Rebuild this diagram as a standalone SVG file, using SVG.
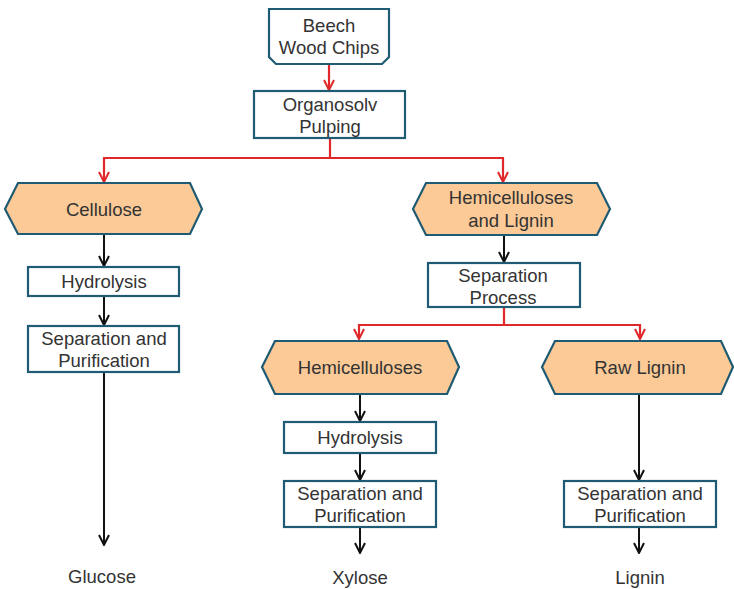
<svg xmlns="http://www.w3.org/2000/svg" width="734" height="589" viewBox="0 0 734 589">
  <defs>
    <marker id="arrowBlack" viewBox="0 0 12 12" refX="11" refY="6" markerWidth="12" markerHeight="12" markerUnits="userSpaceOnUse" orient="auto">
      <path d="M1,1 L11,6 L1,11" fill="none" stroke="#111" stroke-width="2"/>
    </marker>
    <marker id="arrowRed" viewBox="0 0 12 12" refX="11" refY="6" markerWidth="12" markerHeight="12" markerUnits="userSpaceOnUse" orient="auto">
      <path d="M1,1 L11,6 L1,11" fill="none" stroke="#e0282a" stroke-width="2"/>
    </marker>
    <style>
      .box { fill: #ffffff; stroke: #1f5b73; stroke-width: 2.2; }
      .hex { fill: #fbca96; stroke: #1f5b73; stroke-width: 2.2; }
      .lbl { font-family: "Liberation Sans", Arial, sans-serif; font-size: 18.5px; fill: #333333; text-anchor: middle; }
      .red { fill: none; stroke: #e0282a; stroke-width: 2.2; }
      .blk { fill: none; stroke: #111111; stroke-width: 2; }
    </style>
  </defs>

  <g id="connectors">
    <path class="red" d="M329,64 L329,90" marker-end="url(#arrowRed)"/>
    <path class="red" d="M330,138 L330,158 M104,158 L503,158"/>
    <path class="red" d="M104,157 L104,182" marker-end="url(#arrowRed)"/>
    <path class="red" d="M503,157 L503,182" marker-end="url(#arrowRed)"/>
    <path class="blk" d="M104,234 L104,266" marker-end="url(#arrowBlack)"/>
    <path class="blk" d="M104,296 L104,325" marker-end="url(#arrowBlack)"/>
    <path class="blk" d="M104,372 L104,545" marker-end="url(#arrowBlack)"/>
    <path class="blk" d="M504,235 L504,262" marker-end="url(#arrowBlack)"/>
    <path class="red" d="M504,307 L504,325 M359,325 L640,325"/>
    <path class="red" d="M359,324 L359,339" marker-end="url(#arrowRed)"/>
    <path class="red" d="M640,324 L640,339" marker-end="url(#arrowRed)"/>
    <path class="blk" d="M360,394 L360,421" marker-end="url(#arrowBlack)"/>
    <path class="blk" d="M360,453 L360,480" marker-end="url(#arrowBlack)"/>
    <path class="blk" d="M360,527 L360,553" marker-end="url(#arrowBlack)"/>
    <path class="blk" d="M639,394 L639,480" marker-end="url(#arrowBlack)"/>
    <path class="blk" d="M639,527 L639,553" marker-end="url(#arrowBlack)"/>
  </g>

  <g id="beech-wood-chips">
    <path class="box" d="M269,9 L389,9 L389,57 L382,64 L276,64 L269,57 Z"/>
    <text class="lbl" x="329" y="32">Beech</text>
    <text class="lbl" x="329" y="54">Wood Chips</text>
  </g>

  <g id="organosolv-pulping">
    <rect class="box" x="254" y="91" width="151" height="47"/>
    <text class="lbl" x="330" y="111">Organosolv</text>
    <text class="lbl" x="330" y="133">Pulping</text>
  </g>

  <g id="cellulose">
    <path class="hex" d="M18,183 L190,183 L202,209 L190,234 L18,234 L5,209 Z"/>
    <text class="lbl" x="104" y="216">Cellulose</text>
  </g>

  <g id="hydrolysis-1">
    <rect class="box" x="28" y="267" width="151" height="29"/>
    <text class="lbl" x="104" y="288">Hydrolysis</text>
  </g>

  <g id="separation-purification-1">
    <rect class="box" x="28" y="326" width="151" height="46"/>
    <text class="lbl" x="104" y="345">Separation and</text>
    <text class="lbl" x="104" y="367">Purification</text>
  </g>

  <g id="glucose">
    <text class="lbl" x="102" y="583">Glucose</text>
  </g>

  <g id="hemicelluloses-and-lignin">
    <path class="hex" d="M426,183 L597,183 L610,209 L597,235 L426,235 L413,209 Z"/>
    <text class="lbl" x="511" y="204">Hemicelluloses</text>
    <text class="lbl" x="511" y="227">and Lignin</text>
  </g>

  <g id="separation-process">
    <rect class="box" x="428" y="263" width="152" height="44"/>
    <text class="lbl" x="503" y="282">Separation</text>
    <text class="lbl" x="503" y="304">Process</text>
  </g>

  <g id="hemicelluloses">
    <path class="hex" d="M275,341 L447,341 L459,367 L447,394 L275,394 L262,367 Z"/>
    <text class="lbl" x="360" y="374">Hemicelluloses</text>
  </g>

  <g id="raw-lignin">
    <path class="hex" d="M555,341 L721,341 L733,367 L721,394 L555,394 L542,367 Z"/>
    <text class="lbl" x="640" y="374">Raw Lignin</text>
  </g>

  <g id="hydrolysis-2">
    <rect class="box" x="284" y="422" width="152" height="31"/>
    <text class="lbl" x="360" y="444">Hydrolysis</text>
  </g>

  <g id="separation-purification-2">
    <rect class="box" x="284" y="481" width="152" height="46"/>
    <text class="lbl" x="360" y="500">Separation and</text>
    <text class="lbl" x="360" y="522">Purification</text>
  </g>

  <g id="xylose">
    <text class="lbl" x="360" y="584">Xylose</text>
  </g>

  <g id="separation-purification-3">
    <rect class="box" x="564" y="481" width="152" height="46"/>
    <text class="lbl" x="640" y="500">Separation and</text>
    <text class="lbl" x="640" y="522">Purification</text>
  </g>

  <g id="lignin">
    <text class="lbl" x="640" y="584">Lignin</text>
  </g>
</svg>
